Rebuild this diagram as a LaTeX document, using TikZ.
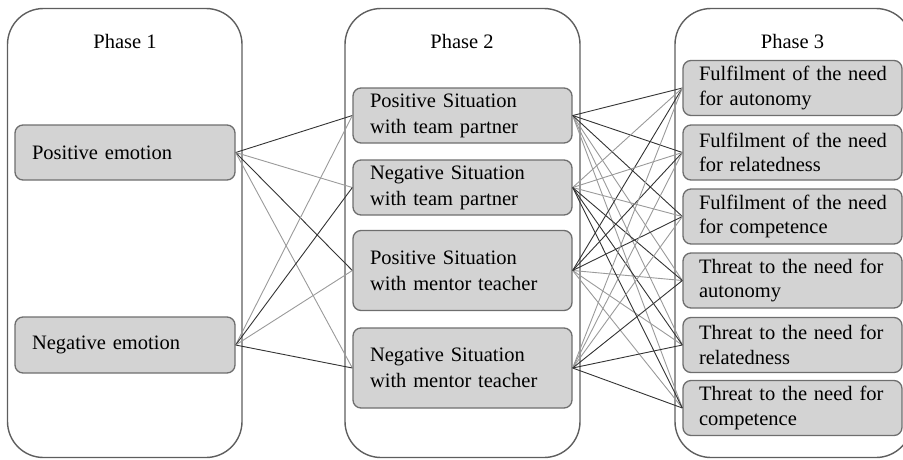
\documentclass[tikz,border=0pt]{standalone}
\usepackage{fontspec}
\setmainfont{Liberation Serif}
\definecolor{outerline}{HTML}{5E5E5E}
\definecolor{itemborder}{HTML}{6E6E6E}
\definecolor{itemfill}{HTML}{D3D3D3}
\definecolor{darkline}{HTML}{333333}
\definecolor{lightline}{HTML}{9A9A9A}
\newcommand{\oneline}[1]{\mbox{#1}}
\begin{document}
\begin{tikzpicture}[x=1pt,y=-1pt,
  phasebox/.style={draw=outerline, line width=1.4pt, rounded corners=36pt, inner sep=0pt},
  phaselabel/.style={font=\fontsize{20.5}{25}\selectfont, anchor=base, inner sep=0pt},
  itema/.style={draw=itemborder, fill=itemfill, line width=1.3pt, rounded corners=8pt,
    inner xsep=17pt, inner ysep=0pt, text width=185pt, align=left,
    font=\fontsize{20.5}{26}\selectfont, minimum height=#1},
  itemb/.style={draw=itemborder, fill=itemfill, line width=1.3pt, rounded corners=8pt,
    inner xsep=16pt, inner ysep=0pt, text width=187pt, align=left,
    font=\fontsize{20.5}{24.5}\selectfont, minimum height=55pt},
  dk/.style={draw=darkline, line width=0.9pt},
  lt/.style={draw=lightline, line width=0.9pt}
]
\clip (0,0) rectangle (903,459);
% phase containers
\node[phasebox, minimum width=234.5pt, minimum height=449pt] (p1) at (124.75,233) {};
\node[phasebox, minimum width=235pt, minimum height=449pt] (p2) at (462.5,233) {};
\node[phasebox, minimum width=237pt, minimum height=449pt] (p3) at (793.5,233) {};
\node[phaselabel] (l1) at (125,48.5) {Phase 1};
\node[phaselabel] (l2) at (462,48.5) {Phase 2};
\node[phaselabel] (l3) at (792.5,48.5) {Phase 3};
% phase 1
\node[itema=55pt, text width=186pt] (pe) at (125,152.5) {\oneline{Positive emotion}};
\node[itema=56pt, text width=186pt] (ne) at (125,345) {\oneline{Negative emotion}};
% phase 2
\node[itema=55pt] (pst) at (462.5,115.5) {\oneline{Positive Situation}\\\oneline{with team partner}};
\node[itema=55pt] (nst) at (462.5,187.5) {\oneline{Negative Situation}\\\oneline{with team partner}};
\node[itema=80pt] (psm) at (462.5,270.5) {\oneline{Positive Situation}\\\oneline{with mentor teacher}};
\node[itema=80pt] (nsm) at (462.5,368) {\oneline{Negative Situation}\\\oneline{with mentor teacher}};
% phase 3
\node[itemb] (fa) at (792.5,88) {\oneline{Fulfilment of the need}\\\oneline{for autonomy}};
\node[itemb] (fr) at (792.5,152.5) {\oneline{Fulfilment of the need}\\\oneline{for relatedness}};
\node[itemb] (fc) at (792.5,216.5) {\oneline{Fulfilment of the need}\\\oneline{for competence}};
\node[itemb] (ta) at (792.5,280.5) {\oneline{Threat to the need for}\\\oneline{autonomy}};
\node[itemb] (tr) at (792.5,345) {\oneline{Threat to the need for}\\\oneline{relatedness}};
\node[itemb] (tc) at (792.5,408) {\oneline{Threat to the need for}\\\oneline{competence}};
% connectors phase 1 -> phase 2
\draw[dk] (pe.east) -- (pst.west);
\draw[lt] (pe.east) -- (nst.west);
\draw[dk] (pe.east) -- (psm.west);
\draw[lt] (pe.east) -- (nsm.west);
\draw[lt] (ne.east) -- (pst.west);
\draw[dk] (ne.east) -- (nst.west);
\draw[lt] (ne.east) -- (psm.west);
\draw[dk] (ne.east) -- (nsm.west);
% connectors phase 2 -> phase 3
\foreach \s in {pst,psm}{
  \foreach \t in {ta,tr,tc}{\draw[lt] (\s.east) -- (\t.west);}
  \foreach \t in {fa,fr,fc}{\draw[dk] (\s.east) -- (\t.west);}
}
\foreach \s in {nst,nsm}{
  \foreach \t in {fa,fr,fc}{\draw[lt] (\s.east) -- (\t.west);}
  \foreach \t in {ta,tr,tc}{\draw[dk] (\s.east) -- (\t.west);}
}
\end{tikzpicture}
\end{document}
